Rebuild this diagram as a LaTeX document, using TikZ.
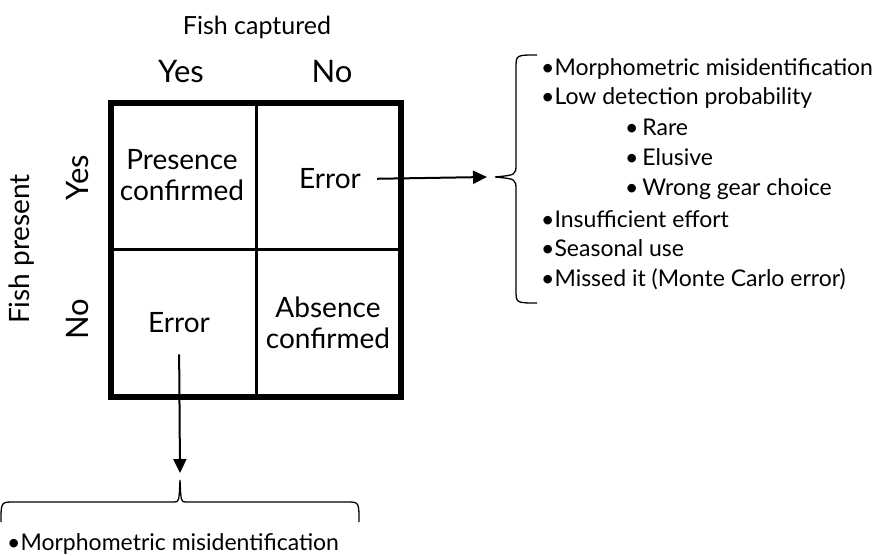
\documentclass[tikz,border=0pt]{standalone}
\usepackage{fontspec}
\setmainfont{Lato}
\usetikzlibrary{arrows.meta}

\begin{document}
\begin{tikzpicture}[x=1pt,y=-1pt,
  hdr/.style={font=\fontsize{25}{28}\selectfont},
  ans/.style={font=\fontsize{31}{34}\selectfont},
  cell/.style={font=\fontsize{28}{31}\selectfont,align=center,inner sep=2pt},
  item/.style={font=\fontsize{23}{26}\selectfont,anchor=base west,inner sep=0pt},
  link/.style={-{Triangle[length=14pt,width=13pt]},line width=2pt},
  grp/.style={line width=1.3pt}]
  \useasboundingbox (0,0) rectangle (879,556);

  % the 2x2 table
  \draw[line width=5.5pt] (111,103) rectangle (401,397);
  \draw[line width=3pt] (256.5,103) -- (256.5,397);
  \draw[line width=3pt] (111,250) -- (401,250);

  % headers
  \node[hdr] (captured) at (257,27) {Fish captured};
  \node[ans] (capYes) at (181,72) {Yes};
  \node[ans] (capNo) at (332,72) {No};
  \node[hdr,font=\fontsize{28}{31}\selectfont,rotate=90] (present) at (22,249) {Fish present};
  \node[ans,rotate=90] (preYes) at (78,178) {Yes};
  \node[ans,rotate=90] (preNo) at (78,319) {No};

  % cells
  \node[cell] (presence) at (182,175) {Presence\\confirmed};
  \node[cell] (falseNeg) at (330,179) {Error};
  \node[cell] (falsePos) at (179,323) {Error};
  \node[cell] (absence) at (328,323) {Absence\\confirmed};

  % right list
  \coordinate (tipR) at (495,177);
  \draw[grp] (537,55) .. controls (516,55) .. (516,68) -- (516,164)
    .. controls (516,175) .. (tipR) .. controls (516,179) .. (516,190)
    -- (516,290) .. controls (516,303) .. (537,303);
  \draw[link,shorten <=14pt] (falseNeg.east) -- ([xshift=-8pt]tipR);
  \foreach \y/\txt [count=\i] in {76/Morphometric misidentification,
      105/Low detection probability,
      228/Insufficient effort,
      257/Seasonal use,
      287/Missed it (Monte Carlo error)}
    \node[item] (cause\i) at (541,\y) {•\txt};
  \foreach \y/\txt [count=\i] in {136/Rare,166/Elusive,196/Wrong gear choice}
    \node[item] (sub\i) at (625,\y) {•\,\txt};

  % bottom list
  \coordinate (tipB) at (180,480);
  \draw[grp] (1,522) .. controls (1,502) .. (14,502) -- (174,502)
    .. controls (179,502) .. (tipB) .. controls (181,502) .. (186,502)
    -- (347,502) .. controls (359,502) .. (359,522);
  \draw[link,shorten <=19pt] (falsePos.south) -- ([yshift=7pt]tipB);
  \node[item] (misid) at (7,550) {•Morphometric misidentification};
\end{tikzpicture}
\end{document}
